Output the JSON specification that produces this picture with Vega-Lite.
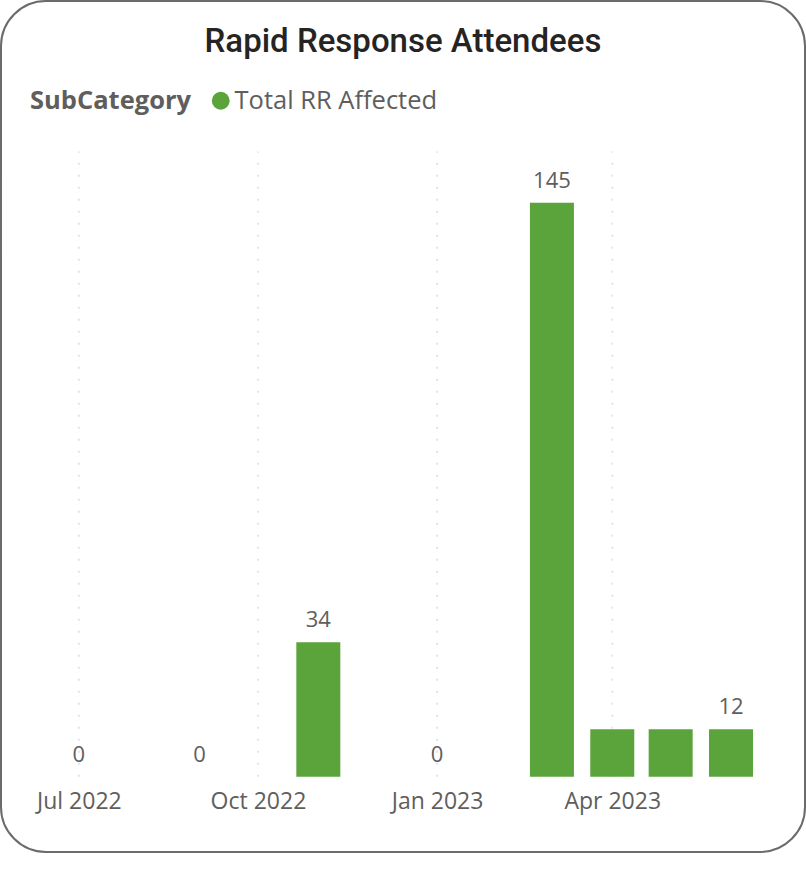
{
  "$schema": "https://vega.github.io/schema/vega-lite/v6.json",
  "width": 804,
  "height": 851,
  "autosize": {"type": "none"},
  "padding": {"left": 1, "top": 1, "right": 1, "bottom": 20},
  "background": "white",
  "title": {
    "text": "Rapid Response Attendees",
    "anchor": "middle",
    "frame": "group",
    "orient": "top",
    "baseline": "alphabetic",
    "offset": 0,
    "dy": 84,
    "font": "Roboto",
    "fontSize": 33,
    "fontWeight": 500,
    "color": "#252423"
  },
  "config": {
    "view": {"stroke": "#6b6b6b", "strokeWidth": 2, "cornerRadius": 45}
  },
  "datasets": {
    "attendees": [
      {"month": "2022-07-01", "value": 0, "label": "0", "series": "Total RR Affected"},
      {"month": "2022-09-01", "value": 0, "label": "0", "series": "Total RR Affected"},
      {"month": "2022-11-01", "value": 34, "label": "34", "series": "Total RR Affected"},
      {"month": "2023-01-01", "value": 0, "label": "0", "series": "Total RR Affected"},
      {"month": "2023-03-01", "value": 145, "label": "145", "series": "Total RR Affected"},
      {"month": "2023-04-01", "value": 12, "label": "", "series": "Total RR Affected"},
      {"month": "2023-05-01", "value": 12, "label": "", "series": "Total RR Affected"},
      {"month": "2023-06-01", "value": 12, "label": "12", "series": "Total RR Affected"}
    ],
    "quarters": [
      {"month": "2022-07-01"},
      {"month": "2022-10-01"},
      {"month": "2023-01-01"},
      {"month": "2023-04-01"}
    ]
  },
  "encoding": {
    "x": {
      "field": "month",
      "type": "temporal",
      "scale": {
        "type": "utc",
        "padding": 0,
        "domain": [
          {"year": 2022, "month": 5, "date": 22, "utc": true},
          {"year": 2023, "month": 7, "date": 9, "utc": true}
        ]
      },
      "axis": {
        "title": null,
        "values": [
          {"year": 2022, "month": 7, "date": 1, "utc": true},
          {"year": 2022, "month": 10, "date": 1, "utc": true},
          {"year": 2023, "month": 1, "date": 1, "utc": true},
          {"year": 2023, "month": 4, "date": 1, "utc": true}
        ],
        "format": "%b %Y",
        "domain": false,
        "ticks": false,
        "tickSize": 0,
        "grid": false,
        "offset": -74,
        "labelPadding": 12,
        "labelFlush": false,
        "labelOverlap": false,
        "labelFont": "Open Sans",
        "labelFontSize": 23,
        "labelColor": "#605E5C"
      }
    }
  },
  "layer": [
    {
      "data": {"name": "quarters"},
      "mark": {"type": "rule", "color": "#e2e2ef", "strokeWidth": 2, "strokeDash": [2, 10]},
      "encoding": {
        "y": {"datum": 0, "type": "quantitative", "scale": {"domain": [-19, 196], "nice": false, "zero": false}, "axis": null},
        "y2": {"datum": 158}
      }
    },
    {
      "data": {"name": "attendees"},
      "mark": {"type": "bar", "width": 44},
      "encoding": {
        "y": {"field": "value", "type": "quantitative", "axis": null},
        "y2": {"datum": 0},
        "color": {
          "field": "series",
          "type": "nominal",
          "scale": {"range": ["#5ba33b"]},
          "legend": {
            "orient": "none",
            "legendX": 29,
            "legendY": 87,
            "direction": "horizontal",
            "title": "SubCategory",
            "titleOrient": "left",
            "titleFont": "Open Sans",
            "titleFontSize": 25.5,
            "titleFontWeight": "bold",
            "titleColor": "#605E5C",
            "titlePadding": 16,
            "labelFont": "Open Sans",
            "labelFontSize": 25.5,
            "labelColor": "#605E5C",
            "labelLimit": 400,
            "labelOffset": 1,
            "symbolType": "circle",
            "symbolSize": 320,
            "symbolStrokeWidth": 0
          }
        }
      }
    },
    {
      "data": {"name": "attendees"},
      "mark": {
        "type": "text",
        "baseline": "alphabetic",
        "dy": -15,
        "font": "Open Sans",
        "fontSize": 22,
        "color": "#605E5C"
      },
      "encoding": {
        "y": {"field": "value", "type": "quantitative"},
        "text": {"field": "label"}
      }
    }
  ]
}
